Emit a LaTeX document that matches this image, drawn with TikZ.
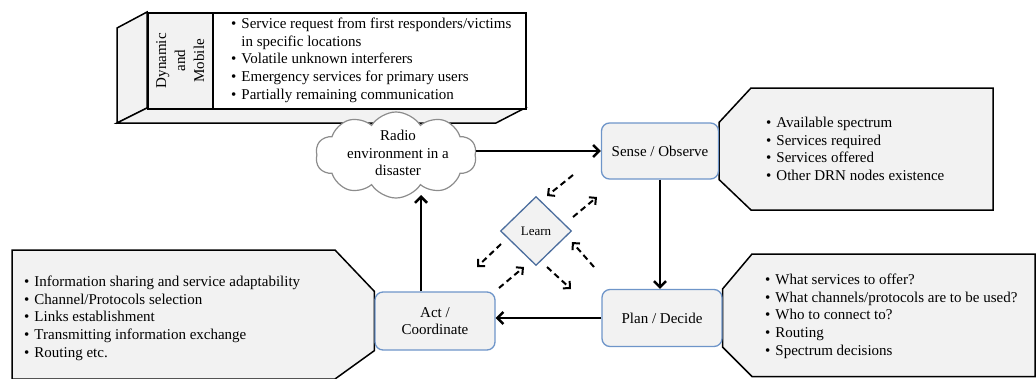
\documentclass[tikz,border=0pt]{standalone}
\usepackage{fontspec}
\setmainfont{Liberation Serif}
\usetikzlibrary{shapes.geometric,shapes.symbols,arrows.meta}
\definecolor{boxgray}{HTML}{F2F2F2}
\definecolor{boxblue}{HTML}{6E95C9}
\definecolor{diablue}{HTML}{4C6E9E}
\definecolor{cloudgray}{HTML}{8C8C8C}
\newcommand\myb{\textbullet\hspace{5pt}}
\newcommand\myind{\hphantom{\myb}}
\pgfdeclarelayer{background}
\pgfsetlayers{background,main}
\begin{document}
\begin{tikzpicture}[x=1pt,y=-1pt,
  txt/.style={font=\fontsize{15}{17.6}\selectfont},
  stage/.style={draw=boxblue, line width=1.3pt, fill=boxgray, rounded corners=8pt, align=center, txt, inner sep=0},
  listtxt/.style={anchor=north west, align=left, inner sep=0, txt},
  callout/.style={draw=black, line width=1.5pt, fill=boxgray},
  solid3d/.style={draw=black, line width=1.5pt},
  main/.style={line width=2.5pt, -{Straight Barb[length=6pt,width=12pt,line width=2.5pt]}},
  dasharrow/.style={line width=2pt, dash pattern=on 6pt off 4pt, -{Straight Barb[length=5pt,width=10pt,line width=2pt]}}
]
\useasboundingbox (0,0) rectangle (1036,378);

% stage nodes
\node[stage, minimum width=117pt, minimum height=56pt] (sense) at (660,151) {Sense / Observe};
\node[stage, minimum width=120pt, minimum height=57pt] (plan) at (662,318) {Plan / Decide};
\node[stage, minimum width=120pt, minimum height=58pt] (act) at (435,321) {Act /\\Coordinate};

% callouts (behind)
\begin{pgfonlayer}{background}
\draw[callout] (sense.north east) -- (751,88) -- (993,88) -- (993,210) -- (751,210) -- (sense.south east) -- cycle;
\draw[callout] (plan.north east) -- (752,254) -- (1035,254) -- (1035,376.5) -- (752,376.5) -- (plan.south east) -- cycle;
\draw[callout] (act.north west) -- (335,250) -- (12,250) -- (12,379) -- (335,379) -- (act.south west) -- cycle;
\end{pgfonlayer}

% 3D box
\draw[solid3d, fill=boxgray] (147,12) -- (117,28) -- (117,123) -- (147,108) -- cycle;
\draw[solid3d, fill=boxgray] (117,123) -- (496,123) -- (525,108) -- (147,108) -- cycle;
\node[solid3d, fill=white, minimum width=378pt, minimum height=96pt, inner sep=0, anchor=north west] (envbox) at (147,12) {};
\node[solid3d, fill=boxgray, minimum width=65pt, minimum height=96pt, inner sep=0, anchor=north west] (dyn) at (147,12) {};
\node[txt, align=center, rotate=90, font=\fontsize{15}{19}\selectfont] (dyntxt) at (dyn.center) {Dynamic\\and\\Mobile};

% lists
\node[listtxt] (toplist) at (231,18) {\myb Service request from first responders/victims\\\myind in specific locations\\\myb Volatile unknown interferers\\\myb Emergency services for primary users\\\myb Partially remaining communication};
\node[listtxt] (senselist) at (766,117) {\myb Available spectrum\\\myb Services required\\\myb Services offered\\\myb Other DRN nodes existence};
\node[listtxt] (planlist) at (765,274) {\myb What services to offer?\\\myb What channels/protocols are to be used?\\\myb Who to connect to?\\\myb Routing\\\myb Spectrum decisions};
\node[listtxt] (actlist) at (24,276) {\myb Information sharing and service adaptability\\\myb Channel/Protocols selection\\\myb Links establishment\\\myb Transmitting information exchange\\\myb Routing etc.};

% cloud
\node[cloud, cloud puffs=10, cloud puff arc=115, aspect=1.9, draw=cloudgray, fill=white, line width=1.2pt, minimum width=161pt, minimum height=86pt, inner sep=0] (cloud) at (396,155) {};
\node[txt, align=center] (cloudtxt) at (398,153) {Radio\\environment in a\\disaster};

% learn
\node[diamond, draw=diablue, line width=1.3pt, fill=boxgray, minimum width=71pt, minimum height=69pt, inner sep=0, font=\fontsize{13}{15}\selectfont] (learn) at (536,231) {Learn};

% main arrows
\coordinate (aup) at (421,195);
\draw[main] (cloud.east |- sense.west) -- (sense.west);
\draw[main] (sense.south) -- (sense.south |- plan.north);
\draw[main] (plan.west) -- (plan.west -| act.east);
\draw[main] (act.north -| aup) -- (aup);

% dashed learning arrows
\coordinate (a1) at (573,175); \coordinate (a2) at (547,196);
\coordinate (b1) at (573,217); \coordinate (b2) at (597,197);
\coordinate (c1) at (594,267); \coordinate (c2) at (572,242);
\coordinate (d1) at (547,267); \coordinate (d2) at (571,289);
\coordinate (e1) at (501,244); \coordinate (e2) at (477,267);
\coordinate (f1) at (499,288); \coordinate (f2) at (524,267);
\draw[dasharrow] (a1) -- (a2);
\draw[dasharrow] (b1) -- (b2);
\draw[dasharrow] (c1) -- (c2);
\draw[dasharrow] (d1) -- (d2);
\draw[dasharrow] (e1) -- (e2);
\draw[dasharrow] (f1) -- (f2);
\end{tikzpicture}
\end{document}
